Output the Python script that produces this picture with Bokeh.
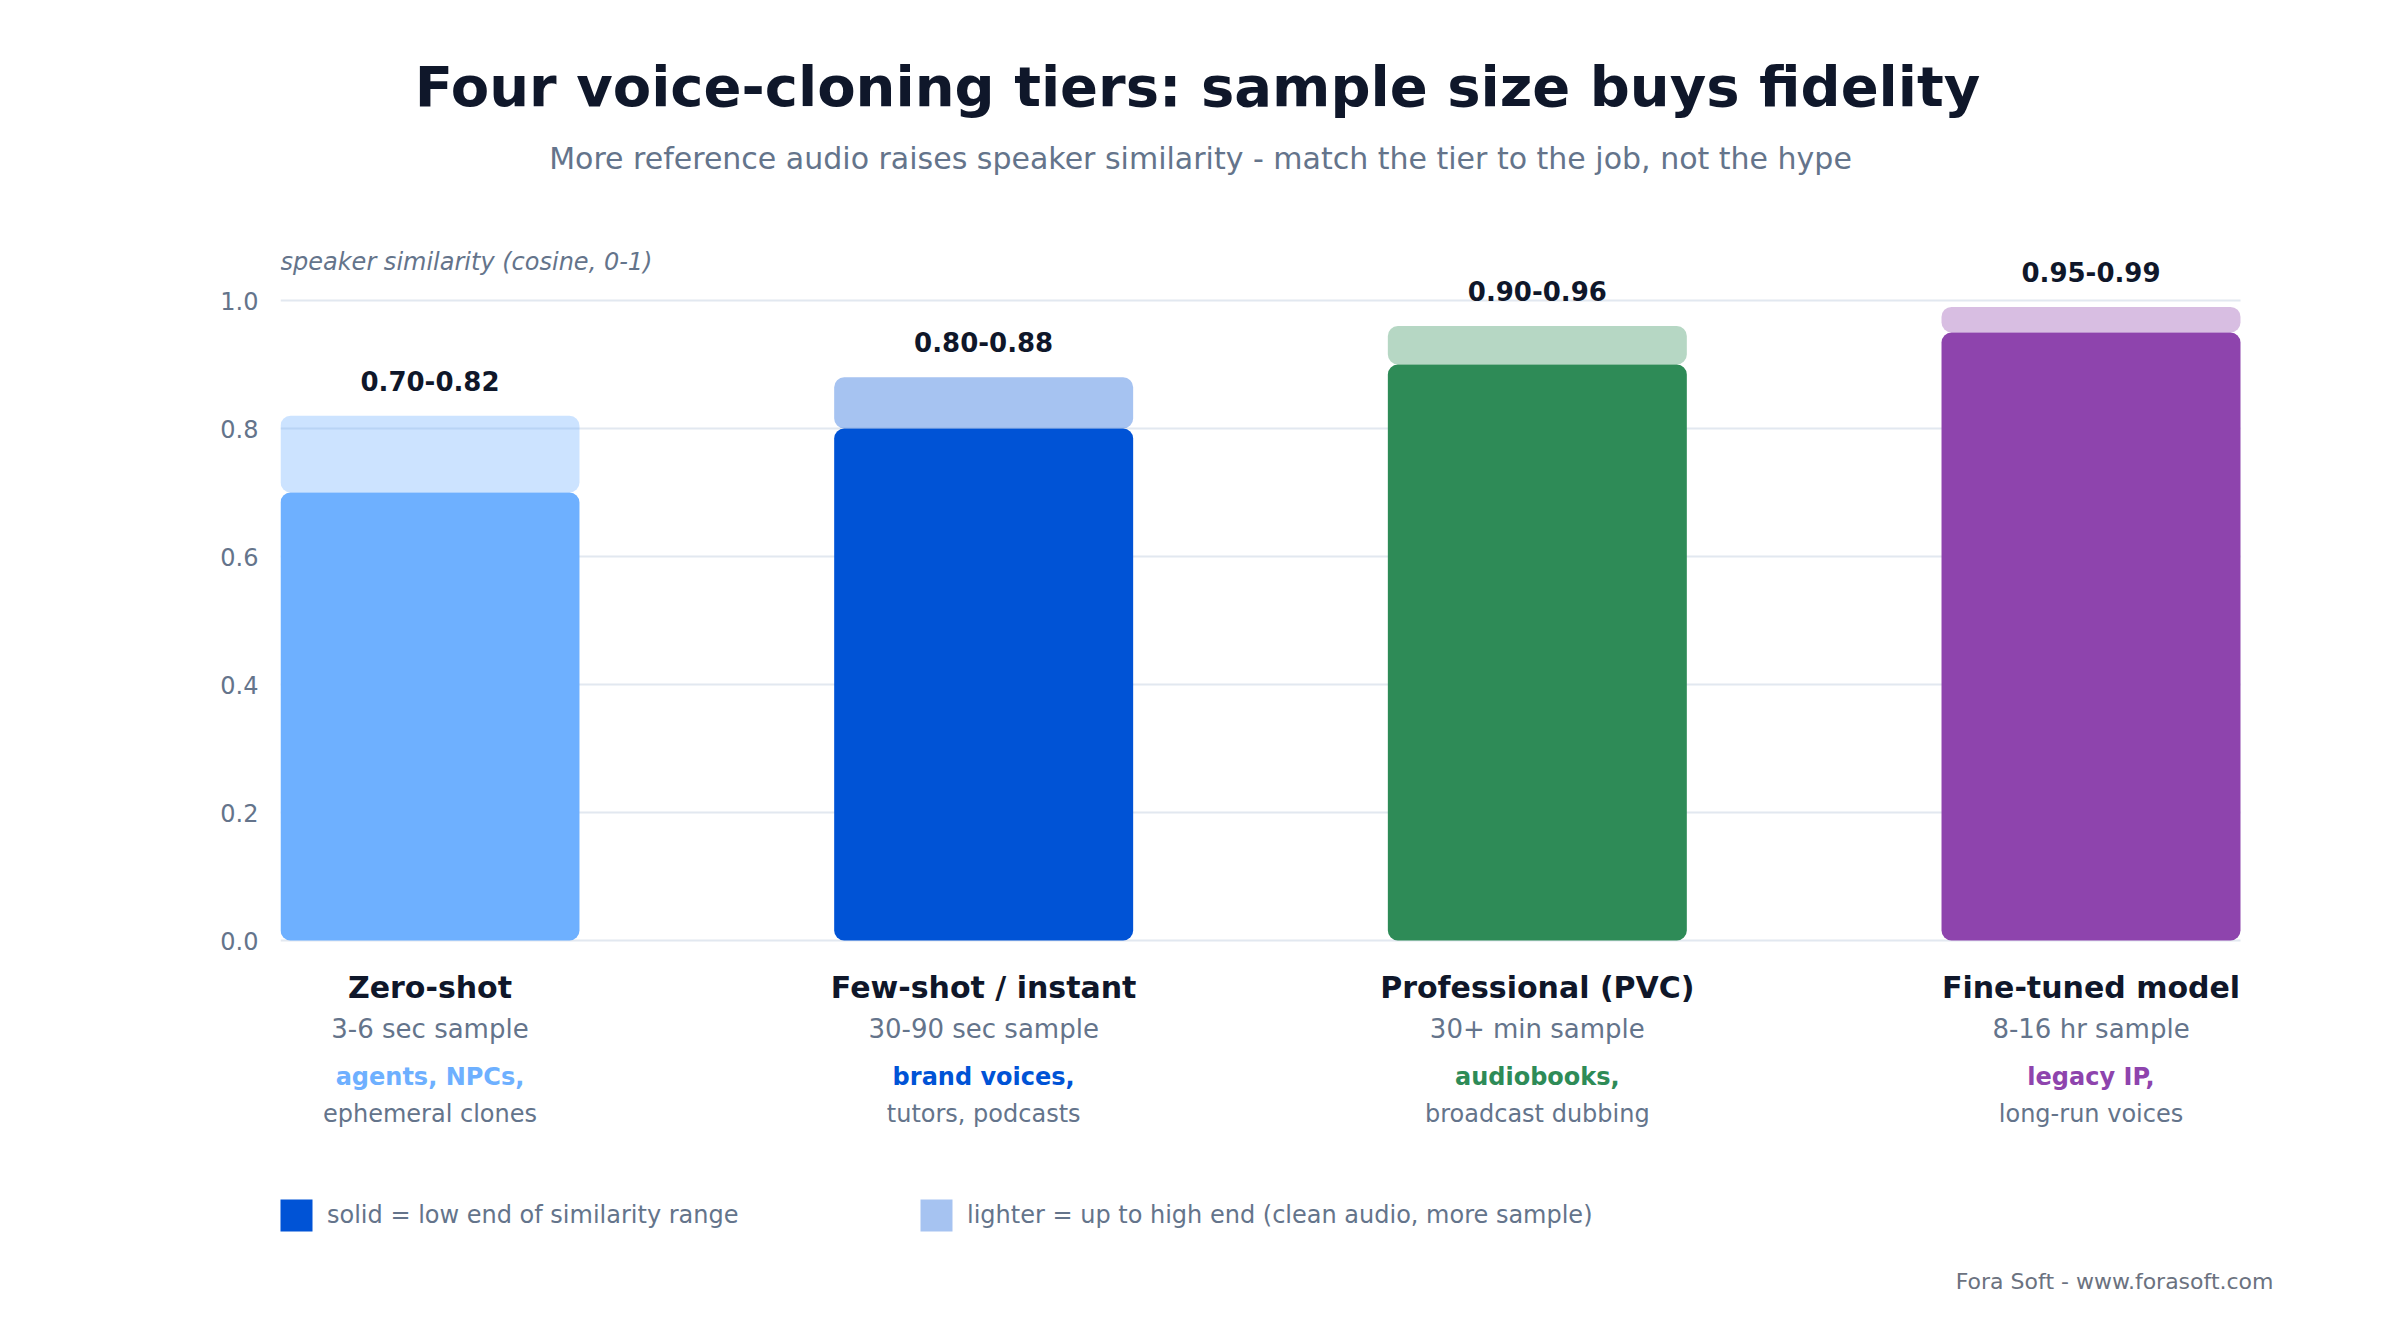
from bokeh.plotting import figure
from bokeh.models import (ColumnDataSource, Range1d, FixedTicker, PrintfTickFormatter,
                          Label, Legend, LegendItem)
from bokeh.core.properties import value
from bokeh.embed import file_html
from bokeh.resources import INLINE

# --- data ---
tiers = ["Zero-shot", "Few-shot / instant", "Professional (PVC)", "Fine-tuned model"]
samples = ["3-6 sec sample", "30-90 sec sample", "30+ min sample", "8-16 hr sample"]
use_lead = ["agents, NPCs,", "brand voices,", "audiobooks,", "legacy IP,"]
use_rest = ["ephemeral clones", "tutors, podcasts", "broadcast dubbing", "long-run voices"]
sim_low = [0.70, 0.80, 0.90, 0.95]
sim_high = [0.82, 0.88, 0.96, 0.99]
y_ticks = [0.0, 0.2, 0.4, 0.6, 0.8, 1.0]

colors = ["#6eb0ff", "#0053d6", "#2e8b57", "#8e44ad"]
FONT = "DejaVu Sans"
DARK = "#0f172a"
MUTED = "#64748b"
GRID = "#e2e8f0"

# layout (px)
W, H = 2384, 1304
FRAME_LEFT = 280          # left edge of first bar
BARS_SPAN = 1960          # first bar left edge -> last bar right edge
ZERO_Y = 940              # canvas y of similarity 0
UNIT_Y = 640              # px per 1.0 similarity
BAR_W = 0.54

n = len(tiers)
x0 = -BAR_W / 2
x1 = n - 1 + BAR_W / 2
x_end = x0 + (W - FRAME_LEFT) * (x1 - x0) / BARS_SPAN

src = ColumnDataSource(data=dict(
    x=list(range(n)),
    tier=tiers,
    sample=samples,
    lead=use_lead,
    rest=use_rest,
    low=sim_low,
    high=sim_high,
    color=colors,
    rng=["%.2f-%.2f" % (lo, hi) for lo, hi in zip(sim_low, sim_high)],
))
grid_src = ColumnDataSource(data=dict(y=y_ticks))

p = figure(width=W, height=H,
           x_range=Range1d(x0, x_end),
           y_range=Range1d(-(H - ZERO_Y) / UNIT_Y, ZERO_Y / UNIT_Y),
           output_backend="svg", toolbar_location=None,
           x_axis_location=None,
           min_border_left=FRAME_LEFT, min_border_right=0,
           min_border_top=0, min_border_bottom=0,
           outline_line_color=None)
p.grid.visible = False

# gridlines only across the bar area
p.segment(x0=x0, x1=x1, y0="y", y1="y", source=grid_src,
          line_color=GRID, line_width=2, level="underlay")

ax = p.yaxis[0]
ax.ticker = FixedTicker(ticks=y_ticks)
ax.formatter = PrintfTickFormatter(format="%.1f")
ax.axis_line_color = None
ax.major_tick_line_color = None
ax.minor_tick_line_color = None
ax.major_tick_in = 0
ax.major_tick_out = 0
ax.major_label_standoff = 22
ax.major_label_text_font = FONT
ax.major_label_text_font_size = "24px"
ax.major_label_text_color = MUTED

solid = p.vbar(x="x", bottom=0, top="low", width=BAR_W, source=src,
               fill_color="color", line_color=None, border_radius=10)
light = p.vbar(x="x", bottom="low", top="high", width=BAR_W, source=src,
               fill_color="color", fill_alpha=0.35, line_color=None, border_radius=10)

# range labels above bars
p.text(x="x", y="high", text="rng", source=src, y_offset=-35,
       text_align="center", text_baseline="alphabetic",
       text_font=value(FONT), text_font_style="bold",
       text_font_size=value("26px"), text_color=DARK)

# tier captions under the baseline
p.text(x="x", y=0, text="tier", source=src, y_offset=47,
       text_align="center", text_baseline="alphabetic",
       text_font=value(FONT), text_font_style="bold",
       text_font_size=value("30px"), text_color=DARK)
p.text(x="x", y=0, text="sample", source=src, y_offset=88,
       text_align="center", text_baseline="alphabetic",
       text_font=value(FONT), text_font_size=value("26px"), text_color=MUTED)
p.text(x="x", y=0, text="lead", source=src, y_offset=136,
       text_align="center", text_baseline="alphabetic",
       text_font=value(FONT), text_font_style="bold",
       text_font_size=value("24px"), text_color="color")
p.text(x="x", y=0, text="rest", source=src, y_offset=173,
       text_align="center", text_baseline="alphabetic",
       text_font=value(FONT), text_font_size=value("24px"), text_color=MUTED)

# axis caption
p.add_layout(Label(x=x0, y=1.0, y_offset=39, text="speaker similarity (cosine, 0-1)",
                   text_align="left", text_baseline="alphabetic", text_font=FONT,
                   text_font_style="italic", text_font_size="24px", text_color=MUTED))

# title, subtitle, footer
p.add_layout(Label(x=917, y=1218, x_units="screen", y_units="screen",
                   text="Four voice-cloning tiers: sample size buys fidelity",
                   text_align="center", text_baseline="alphabetic", text_font=FONT,
                   text_font_style="bold", text_font_size="56px", text_color=DARK))
p.add_layout(Label(x=920, y=1146, x_units="screen", y_units="screen",
                   text="More reference audio raises speaker similarity - match the tier to the job, not the hype",
                   text_align="center", text_baseline="alphabetic", text_font=FONT,
                   text_font_size="30px", text_color=MUTED))
p.add_layout(Label(x=1993, y=23, x_units="screen", y_units="screen",
                   text="Fora Soft - www.forasoft.com",
                   text_align="right", text_baseline="alphabetic", text_font=FONT,
                   text_font_size="22px", text_color="#6b7280"))

# legend: two separate keys (legend icons are inset 10%, hence 40px boxes)
def key(label, renderer, x):
    return Legend(items=[LegendItem(label=label, renderers=[renderer], index=1)],
                  location=(x, 69), orientation="horizontal",
                  glyph_width=40, glyph_height=40, label_height=40,
                  label_standoff=11, padding=0, margin=0,
                  border_line_color=None, background_fill_alpha=0,
                  label_text_font=FONT, label_text_font_size="24px",
                  label_text_color=MUTED)

p.add_layout(key("solid = low end of similarity range", solid, -4))
p.add_layout(key("lighter = up to high end (clean audio, more sample)", light, 636))

open("out.html", "w").write(file_html(p, INLINE))
